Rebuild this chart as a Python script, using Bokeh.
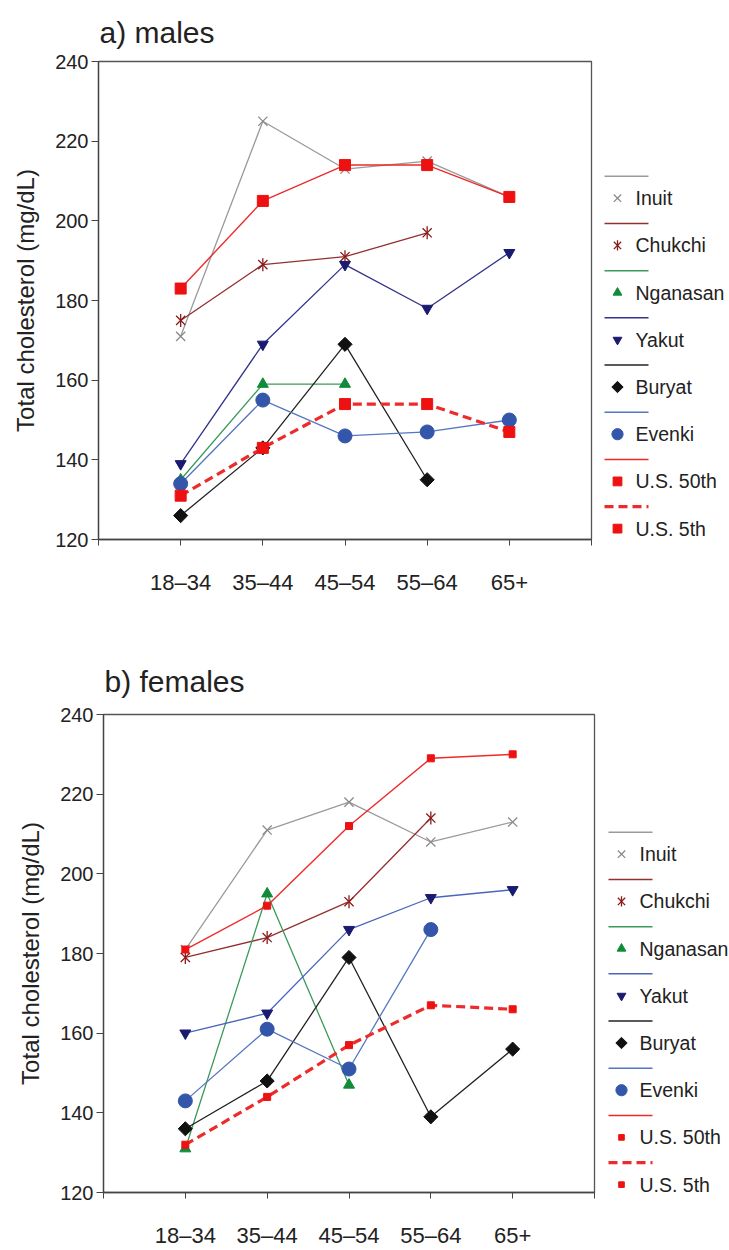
import math
from bokeh.plotting import figure
from bokeh.layouts import column, row
from bokeh.models import Range1d, FixedTicker
from bokeh.core.properties import value
from bokeh.embed import file_html
from bokeh.resources import INLINE

nan = float("nan")

categories = ["18–34", "35–44", "45–54", "55–64", "65+"]
series_names = ["Inuit", "Chukchi", "Nganasan", "Yakut", "Buryat", "Evenki", "U.S. 50th", "U.S. 5th"]

# a) males
males_inuit = [171, 225, 213, 215, 206]
males_chukchi = [175, 189, 191, 197, nan]
males_nganasan = [135, 159, 159, nan, nan]
males_yakut = [139, 169, 189, 178, 192]
males_buryat = [126, 143, 169, 135, nan]
males_evenki = [134, 155, 146, 147, 150]
males_us50 = [183, 205, 214, 214, 206]
males_us5 = [131, 143, 154, 154, 147]

# b) females
females_inuit = [181, 211, 218, 208, 213]
females_chukchi = [179, 184, 193, 214, nan]
females_nganasan = [131, 195, 147, nan, nan]
females_yakut = [160, 165, 186, 194, 196]
females_buryat = [136, 148, 179, 139, 156]
females_evenki = [143, 161, 151, 186, nan]
females_us50 = [181, 192, 212, 229, 230]
females_us5 = [132, 144, 157, 167, 166]

y_ticks = [120, 140, 160, 180, 200, 220, 240]

FONT = "Liberation Sans"
TXT = "#222222"
FIG_H = 625


def styles(yakut_line, us_size):
    return [
        dict(lc="#9a9a9a", lw=1.3, dash="solid", mk="x", mc="#8a8a8a", ms=13),
        dict(lc="#933030", lw=1.3, dash="solid", mk="star", mc="#8b1a1a", ms=13),
        dict(lc="#3a9a5a", lw=1.3, dash="solid", mk="triangle", mc="#118a3a", ms=11),
        dict(lc=yakut_line, lw=1.3, dash="solid", mk="inverted_triangle", mc="#1a1a70", ms=11),
        dict(lc="#222222", lw=1.3, dash="solid", mk="diamond", mc="#111111", ms=10),
        dict(lc="#5577c0", lw=1.3, dash="solid", mk="circle", mc="#3355aa", ms=14),
        dict(lc="#ee2a2a", lw=1.4, dash="solid", mk="square", mc="#ee1111", ms=us_size),
        dict(lc="#ee2a2a", lw=3.2, dash="9 5", mk="square", mc="#ee1111", ms=us_size),
    ]


def draw_marker(p, kind, x, y, color, size):
    if kind == "star":
        p.scatter(x, y, marker="x", size=size, line_color=color, line_width=1.3)
        p.scatter(x, y, marker="dash", size=size, angle=math.pi / 2, line_color=color, line_width=1.3)
    elif kind == "x":
        p.scatter(x, y, marker="x", size=size, line_color=color, line_width=1.3)
    elif kind == "diamond":
        p.scatter(x, y, marker="square", size=size, angle=math.pi / 4, fill_color=color, line_color=color)
    else:
        p.scatter(x, y, marker=kind, size=size, fill_color=color, line_color=color)


def make_main(title, series, st, width, left, top, bottom, title_standoff):
    p = figure(width=width, height=FIG_H, x_range=Range1d(0, 6), y_range=Range1d(120, 240),
               output_backend="svg", toolbar_location=None,
               min_border_left=left, min_border_right=2, min_border_top=top, min_border_bottom=bottom)
    p.grid.visible = False
    p.outline_line_color = "#555555"
    p.outline_line_width = 1.3

    p.title.text = title
    p.title.text_font = FONT
    p.title.text_font_size = "30px"
    p.title.text_font_style = "normal"
    p.title.text_color = TXT
    p.title.align = "left"
    p.title.offset = 1
    p.title.standoff = title_standoff

    xs = [i + 1 for i in range(len(categories))]
    xa = p.xaxis[0]
    xa.ticker = FixedTicker(ticks=[0] + xs + [len(categories) + 1])
    ov = {0: "", len(categories) + 1: ""}
    for i, c in enumerate(categories):
        ov[i + 1] = c
    xa.major_label_overrides = ov
    xa.major_tick_out = 6
    xa.major_tick_in = 0
    xa.minor_tick_out = 0
    xa.minor_tick_in = 0
    xa.axis_line_color = "#444444"
    xa.axis_line_width = 1.3
    xa.major_tick_line_color = "#444444"
    xa.major_label_text_font = FONT
    xa.major_label_text_font_size = "22px"
    xa.major_label_text_color = TXT
    xa.major_label_standoff = 24

    ya = p.yaxis[0]
    ya.ticker = FixedTicker(ticks=y_ticks)
    ya.major_tick_out = 7
    ya.major_tick_in = 0
    ya.minor_tick_out = 0
    ya.minor_tick_in = 0
    ya.axis_line_color = "#444444"
    ya.axis_line_width = 1.3
    ya.major_tick_line_color = "#444444"
    ya.major_label_text_font = FONT
    ya.major_label_text_font_size = "20px"
    ya.major_label_text_color = TXT
    ya.major_label_standoff = 3
    ya.axis_label = "Total cholesterol (mg/dL)"
    ya.axis_label_text_font = FONT
    ya.axis_label_text_font_size = "24px"
    ya.axis_label_text_font_style = "normal"
    ya.axis_label_text_color = TXT
    ya.axis_label_standoff = 13

    for vals, s in zip(series, st):
        p.line(xs, vals, line_color=s["lc"], line_width=s["lw"], line_dash=s["dash"])
        draw_marker(p, s["mk"], xs, vals, s["mc"], s["ms"])
    return p


def make_legend(width, st, x0, first_line_y, step, top, bottom):
    # the row aligns this frame with the main plot's frame, so map local pixels onto it
    lg = figure(width=width, height=FIG_H, x_range=Range1d(0, width),
                y_range=Range1d(FIG_H - bottom, top),
                output_backend="svg", toolbar_location=None,
                x_axis_location=None, y_axis_location=None, min_border=0)
    lg.outline_line_color = None
    lg.grid.visible = False
    for k, (name, s) in enumerate(zip(series_names, st)):
        ly = first_line_y + k * step
        ty = ly + 22
        lw = s["lw"] if s["dash"] != "solid" else 1.5
        lg.line([x0, x0 + 44], [ly, ly], line_color=s["lc"], line_width=lw, line_dash=s["dash"])
        msize = s["ms"] * 0.8
        draw_marker(lg, s["mk"], [x0 + 13], [ty], s["mc"], msize)
        lg.text([x0 + 31], [ty], text=[name], text_font=value(FONT), text_font_size="19.5px",
                text_color=TXT, text_baseline="middle", text_align="left")
    return lg


st_a = styles("#33338a", 11)
st_b = styles("#4a66b8", 7)

males = [males_inuit, males_chukchi, males_nganasan, males_yakut, males_buryat, males_evenki, males_us50, males_us5]
females = [females_inuit, females_chukchi, females_nganasan, females_yakut, females_buryat, females_evenki, females_us50, females_us5]

pa = make_main("a) males", males, st_a, 593, 98, 60, 86, 26)
la = make_legend(136, st_a, 11, 175, 47.3, 60, 86)
pb = make_main("b) females", females, st_b, 596, 103, 89, 57, 34)
lb = make_legend(133, st_b, 12, 207, 47.3, 89, 57)

layout = column(row(pa, la), row(pb, lb))
open("out.html", "w").write(file_html(layout, INLINE))
